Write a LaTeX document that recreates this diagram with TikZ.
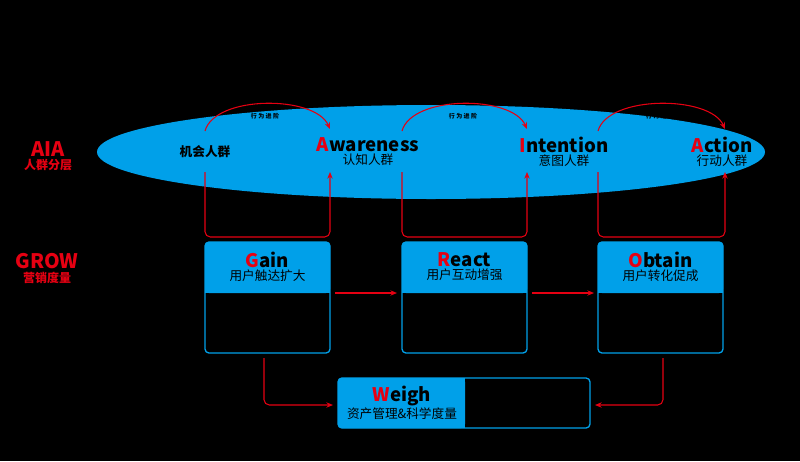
\documentclass[tikz,border=0pt]{standalone}
\usepackage{fontspec}
\setmainfont{Noto Sans CJK SC}
\usetikzlibrary{positioning,calc,arrows.meta}
\definecolor{skyblue}{HTML}{00A0E9}
\definecolor{flowred}{HTML}{E60012}
\tikzset{
	>={Stealth[length=5pt,width=4pt]}, % arrow heads
	flow/.style={->, flowred, line width=0.8pt, rounded corners=4pt}, % red connectors
	stage/.style={draw=skyblue, line width=1pt, rounded corners=3pt}, % GROW boxes
	head/.style={font=\bfseries\fontsize{14}{14}\selectfont, inner sep=0pt}, % big words
	sub/.style={font=\fontsize{9.5}{10}\selectfont, inner sep=0pt}, % chinese subtitles
	advance/.style={font=\bfseries\fontsize{4.5}{5}\selectfont, inner sep=0pt}, % small arc labels
	layer/.style={flowred, font=\bfseries\fontsize{15}{15}\selectfont, inner sep=0pt}, % left labels
}
\newcommand{\hl}[1]{\textcolor{flowred}{#1}}
\begin{document}
\begin{tikzpicture}[x=0.75pt,y=-0.75pt]
	\fill[black] (0,0) rectangle (800,461);
	\useasboundingbox (0,0) rectangle (800,461);
	% AIA layer
	\fill[skyblue] (431,152) ellipse [x radius=334, y radius=47];
	\node[layer] (AIA) at (48,149) {AIA};
	\node[sub, flowred, font=\bfseries\fontsize{9}{9}\selectfont, below=2pt of AIA] (AIA_SUB) {人群分层};
	\node[sub, font=\bfseries\fontsize{9.5}{10}\selectfont] (CHANCE) at (205,152) {机会人群};
	\node[head] (AWARE) at (368,145) {\hl{A}wareness};
	\node[sub, below=1pt of AWARE] (AWARE_SUB) {认知人群};
	\node[head] (INTENT) at (564,145) {\hl{I}ntention};
	\node[sub, below=1pt of INTENT] (INTENT_SUB) {意图人群};
	\node[head] (ACTION) at (722,145) {\hl{A}ction};
	\node[sub, below=1pt of ACTION] (ACTION_SUB) {行动人群};
	% arcs over the ellipse
	\coordinate (A1) at (205,131); \coordinate (B1) at (330,129);
	\coordinate (A2) at (402,131); \coordinate (B2) at (527,129);
	\coordinate (A3) at (598,131); \coordinate (B3) at (725,129);
	\draw[flow] (A1) .. controls (215,95) and (315,95) .. (B1);
	\draw[flow] (A2) .. controls (412,95) and (512,95) .. (B2);
	\draw[flow] (A3) .. controls (608,95) and (710,95) .. (B3);
	\node[advance] (STEP1) at (265,116) {行 为 进 阶};
	\node[advance] (STEP2) at (463,116) {行 为 进 阶};
	\node[advance] (STEP3) at (660,116) {行 为 进 阶};
	% loops under the ellipse
	\coordinate (C1) at (205,172); \coordinate (D1) at (330,172);
	\coordinate (C2) at (402,172); \coordinate (D2) at (527,172);
	\coordinate (C3) at (598,172); \coordinate (D3) at (725,172);
	\draw[flow] (C1) |- (267,237) -| (D1);
	\draw[flow] (C2) |- (464,237) -| (D2);
	\draw[flow] (C3) |- (661,237) -| (D3);
	% GROW layer
	\node[layer] (GROW) at (47,261) {GROW};
	\node[sub, flowred, font=\bfseries\fontsize{9}{9}\selectfont, below=2pt of GROW] (GROW_SUB) {营销度量};
	\foreach \x/\name/\first/\rest/\cn in {205/GAIN/G/ain/用户触达扩大, 402/REACT/R/eact/用户互动增强, 598/OBTAIN/O/btain/用户转化促成}{
		\fill[skyblue, rounded corners=3pt] (\x,242) rectangle ++(125,51);
		\fill[skyblue] (\x,285) rectangle ++(125,8);
		\draw[stage] (\x,242) rectangle ++(125,111);
		\coordinate (\name) at (\x+62.5,242);
		\node[head] (\name_T) at (\x+62.5,260) {\hl{\first}\rest};
		\node[sub, below=1pt of \name_T] (\name_S) {\cn};
	}
	\draw[flow] (335,293) -- (397,293);
	\draw[flow] (532,293) -- (594,293);
	% Weigh
	\fill[skyblue, rounded corners=3pt] (338,378) rectangle (465,428);
	\fill[skyblue] (455,378) rectangle (465,428);
	\draw[stage] (338,378) rectangle (590,428);
	\node[head] (WEIGH) at (402,396) {\hl{W}eigh};
	\node[sub, below=1pt of WEIGH] (WEIGH_S) {资产管理\&科学度量};
	\coordinate (G_OUT) at (264,358); \coordinate (W_IN) at (333,405);
	\coordinate (O_OUT) at (663,358); \coordinate (W_IN2) at (595,405);
	\draw[flow] (G_OUT) |- (W_IN);
	\draw[flow] (O_OUT) |- (W_IN2);
\end{tikzpicture}
\end{document}
